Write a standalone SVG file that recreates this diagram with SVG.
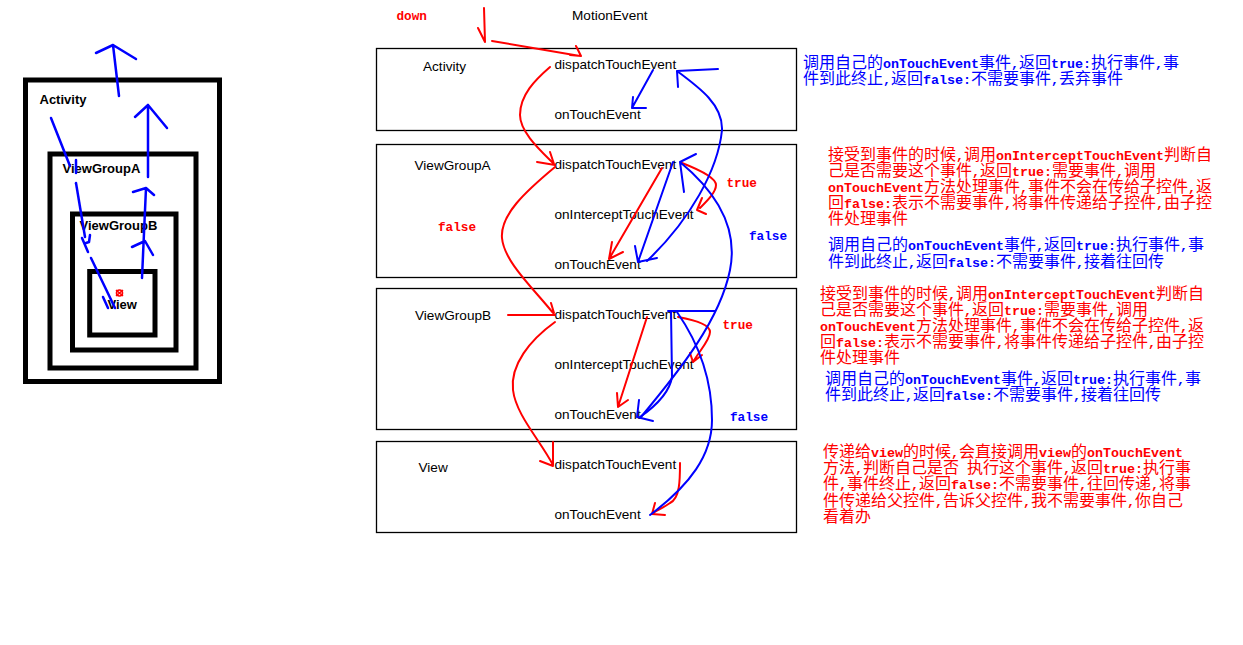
<svg xmlns="http://www.w3.org/2000/svg" width="1243" height="645" viewBox="0 0 1243 645">
<style>
.bg{fill:#fff}
.box{fill:#fff;stroke:#000;stroke-width:1.3}
.tbox{fill:none;stroke:#000;stroke-width:5}
.lbl{font-family:"Liberation Sans",Arial,sans-serif;font-size:13.6px;fill:#000}
.blbl{font-family:"Liberation Sans",Arial,sans-serif;font-size:13px;font-weight:bold;fill:#000}
.cj{font-family:"Noto Sans CJK SC","Noto Sans CJK JP",sans-serif;font-size:16px}
.m{font-family:"Liberation Mono","DejaVu Sans Mono",monospace;font-size:13.33px;font-weight:bold}
.tag{font-family:"Liberation Mono","DejaVu Sans Mono",monospace;font-size:12.7px;font-weight:bold}
.red{fill:#f00}
.blue{fill:#00f}
.r{fill:none;stroke:#f00;stroke-width:2;stroke-linecap:round;stroke-linejoin:round}
.b{fill:none;stroke:#00f;stroke-width:2;stroke-linecap:round;stroke-linejoin:round}
.lb{fill:none;stroke:#00f;stroke-width:2.5;stroke-linecap:round;stroke-linejoin:round}
</style>
<rect class="bg" x="0" y="0" width="1243" height="645"/>

<!-- Left nested diagram -->
<g id="left-activity">
<rect class="tbox" x="25.5" y="80" width="194" height="301.5"/>
<text class="blbl" x="39.5" y="104">Activity</text>
</g>
<g id="left-viewgroupa">
<rect class="tbox" x="50" y="154" width="146" height="214"/>
<text class="blbl" x="62.5" y="172.5">ViewGroupA</text>
</g>
<g id="left-viewgroupb">
<rect class="tbox" x="72.5" y="214" width="103.5" height="136"/>
<text class="blbl" x="79.5" y="230">ViewGroupB</text>
</g>
<g id="left-view">
<rect class="tbox" x="89.7" y="271.5" width="65.3" height="63.5"/>
<text class="blbl" x="107.5" y="309">View</text>
<g id="red-mark" fill="none" stroke="#f00" stroke-width="1.6">
<circle cx="119.5" cy="293" r="3"/>
<path d="M116,290 L123,296 M123,290 L116,296"/>
</g>
</g>

<!-- Middle boxes -->
<g id="node-activity">
<rect class="box" x="376.5" y="48.5" width="420" height="82"/>
<text class="lbl" x="423" y="71">Activity</text>
<text class="lbl" x="554.5" y="69">dispatchTouchEvent</text>
<text class="lbl" x="554.5" y="119">onTouchEvent</text>
</g>
<g id="node-viewgroupa">
<rect class="box" x="376.5" y="144.5" width="420" height="133"/>
<text class="lbl" x="414.5" y="170">ViewGroupA</text>
<text class="lbl" x="554.5" y="169">dispatchTouchEvent</text>
<text class="lbl" x="554.5" y="219">onInterceptTouchEvent</text>
<text class="lbl" x="554.5" y="269">onTouchEvent</text>
</g>
<g id="node-viewgroupb">
<rect class="box" x="376.5" y="288.5" width="420" height="141"/>
<text class="lbl" x="415" y="320">ViewGroupB</text>
<text class="lbl" x="554.5" y="319">dispatchTouchEvent</text>
<text class="lbl" x="554.5" y="369">onInterceptTouchEvent</text>
<text class="lbl" x="554.5" y="419">onTouchEvent</text>
</g>
<g id="node-view">
<rect class="box" x="376.5" y="441.5" width="420" height="91"/>
<text class="lbl" x="418.5" y="472">View</text>
<text class="lbl" x="554.5" y="469">dispatchTouchEvent</text>
<text class="lbl" x="554.5" y="519">onTouchEvent</text>
</g>

<g id="top-labels">
<text class="tag red" x="396.5" y="20">down</text>
<text class="lbl" x="572" y="20">MotionEvent</text>
</g>

<!-- Connectors -->
<g id="connectors">
<!-- left blue arrows -->
<path class="lb" d="M51,118 L70,166"/>
<path class="lb" d="M76,160 L76,173"/>
<path class="lb" d="M76,183 L85,237"/>
<path class="lb" d="M90,235 L89,242 L86,243"/>
<path class="lb" d="M82,238 L88,252"/>
<path class="lb" d="M91,258 L115,308 M103,297 L108,308"/>
<path class="lb" d="M142,278 L146,188 M133,192 L146,188 L154,195 M132,247 L145,241 L153,255"/>
<path class="lb" d="M148,177 L148,105 M135,117 L148,105 L167,128"/>
<path class="lb" d="M119,96 L113,45 M96,53 L113,45 L136,59"/>

<!-- red flow -->
<path class="r" d="M484,8 L485,42 M478,28 L485,42"/>
<path class="r" d="M492,41 L580,56 M576,46 L581,56 L570,55"/>
<path class="r" d="M550,67 C535,80 520,95 520,115 C520,132 540,150 554,164 M537,162 L555,165 M550,152 L554,164"/>
<path class="r" d="M555,167 C525,192 500,215 502,238 C504,262 535,290 553,313 M551,303 L554,313 M508,315 L555,315"/>
<path class="r" d="M555,322 C530,340 510,365 513,390 C516,415 540,440 553,465 M553,442 L553,465 M540,461 L553,466"/>
<path class="r" d="M662,168 L609,259 M612,242 L609,259 L623,252"/>
<path class="r" d="M682,163 C700,170 716,178 716,185 C716,192 708,200 700,208 M702,198 L697,210 L706,214"/>
<path class="r" d="M647,317 L618,407 M617,393 L618,407 L628,400"/>
<path class="r" d="M678,317 C695,320 710,325 710,332 C710,340 700,350 693,362 M690,353 L693,362 L702,355"/>
<path class="r" d="M680,463 C680,480 680,498 670,503 C663,508 655,511 652,514 M655,503 L652,514 L665,515"/>

<!-- blue flow -->
<path class="b" d="M653,70 L632,108 M633,97 L632,108 L646,108"/>
<path class="b" d="M647,261 C690,220 718,170 722,130 C723,105 700,88 677,71 M718,69 L677,71 L678,87"/>
<path class="b" d="M673,162 L638,262 M635,246 L638,262 L657,258"/>
<path class="b" d="M641,417 C680,370 720,320 730,270 C738,230 720,195 680,162 M696,154 L680,162 L684,192"/>
<path class="b" d="M668,311 L715,311"/>
<path class="b" d="M671,311 L672,377 C670,390 660,403 640,417 M639,400 L637,417 L653,421"/>
<path class="b" d="M650,515 C690,485 712,455 712,420 C712,380 700,345 677,312"/>
</g>

<g id="flow-tags">
<text class="tag red" x="438" y="231">false</text>
<text class="tag red" x="726.5" y="187">true</text>
<text class="tag blue" x="749" y="240">false</text>
<text class="tag red" x="722.5" y="329">true</text>
<text class="tag blue" x="730" y="421">false</text>
</g>

<!-- Notes -->
<g id="note-activity" class="cj blue">
<text x="803" y="68">调用自己的<tspan class="m">onTouchEvent</tspan>事件<tspan class="m">,</tspan>返回<tspan class="m">true:</tspan>执行事件<tspan class="m">,</tspan>事</text>
<text x="803" y="84">件到此终止<tspan class="m">,</tspan>返回<tspan class="m">false:</tspan>不需要事件<tspan class="m">,</tspan>丢弃事件</text>
</g>
<g id="note-viewgroupa-intercept" class="cj red">
<text x="828" y="160">接受到事件的时候<tspan class="m">,</tspan>调用<tspan class="m">onInterceptTouchEvent</tspan>判断自</text>
<text x="828" y="176">己是否需要这个事件<tspan class="m">,</tspan>返回<tspan class="m">true:</tspan>需要事件<tspan class="m">,</tspan>调用</text>
<text x="828" y="192"><tspan class="m">onTouchEvent</tspan>方法处理事件<tspan class="m">,</tspan>事件不会在传给子控件<tspan class="m">,</tspan>返</text>
<text x="828" y="208">回<tspan class="m">false:</tspan>表示不需要事件<tspan class="m">,</tspan>将事件传递给子控件<tspan class="m">,</tspan>由子控</text>
<text x="828" y="224">件处理事件</text>
</g>
<g id="note-viewgroupa-touch" class="cj blue">
<text x="828" y="250">调用自己的<tspan class="m">onTouchEvent</tspan>事件<tspan class="m">,</tspan>返回<tspan class="m">true:</tspan>执行事件<tspan class="m">,</tspan>事</text>
<text x="828" y="267">件到此终止<tspan class="m">,</tspan>返回<tspan class="m">false:</tspan>不需要事件<tspan class="m">,</tspan>接着往回传</text>
</g>
<g id="note-viewgroupb-intercept" class="cj red">
<text x="820" y="299">接受到事件的时候<tspan class="m">,</tspan>调用<tspan class="m">onInterceptTouchEvent</tspan>判断自</text>
<text x="820" y="315">己是否需要这个事件<tspan class="m">,</tspan>返回<tspan class="m">true:</tspan>需要事件<tspan class="m">,</tspan>调用</text>
<text x="820" y="331"><tspan class="m">onTouchEvent</tspan>方法处理事件<tspan class="m">,</tspan>事件不会在传给子控件<tspan class="m">,</tspan>返</text>
<text x="820" y="347">回<tspan class="m">false:</tspan>表示不需要事件<tspan class="m">,</tspan>将事件传递给子控件<tspan class="m">,</tspan>由子控</text>
<text x="820" y="363">件处理事件</text>
</g>
<g id="note-viewgroupb-touch" class="cj blue">
<text x="825" y="384">调用自己的<tspan class="m">onTouchEvent</tspan>事件<tspan class="m">,</tspan>返回<tspan class="m">true:</tspan>执行事件<tspan class="m">,</tspan>事</text>
<text x="825" y="400">件到此终止<tspan class="m">,</tspan>返回<tspan class="m">false:</tspan>不需要事件<tspan class="m">,</tspan>接着往回传</text>
</g>
<g id="note-view" class="cj red">
<text x="823" y="457">传递给<tspan class="m">view</tspan>的时候<tspan class="m">,</tspan>会直接调用<tspan class="m">view</tspan>的<tspan class="m">onTouchEvent</tspan></text>
<text x="823" y="473">方法<tspan class="m">,</tspan>判断自己是否<tspan dx="8">执行这个事件</tspan><tspan class="m">,</tspan>返回<tspan class="m">true:</tspan>执行事</text>
<text x="823" y="489">件<tspan class="m">,</tspan>事件终止<tspan class="m">,</tspan>返回<tspan class="m">false:</tspan>不需要事件<tspan class="m">,</tspan>往回传递<tspan class="m">,</tspan>将事</text>
<text x="823" y="506">件传递给父控件<tspan class="m">,</tspan>告诉父控件<tspan class="m">,</tspan>我不需要事件<tspan class="m">,</tspan>你自己</text>
<text x="823" y="522">看着办</text>
</g>
</svg>
